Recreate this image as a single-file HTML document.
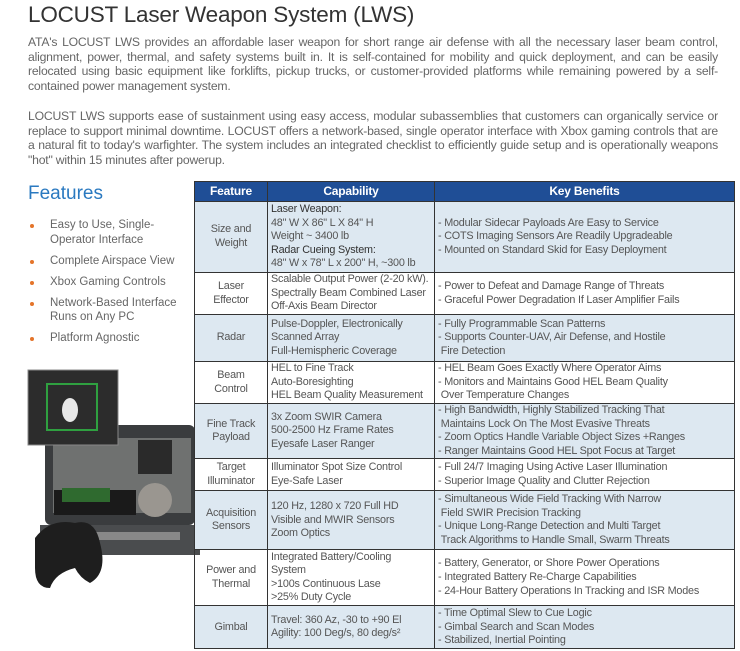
<!DOCTYPE html>
<html><head><meta charset="utf-8"><style>
body{margin:0;width:740px;height:651px;background:#fff;position:relative;overflow:hidden;font-family:"Liberation Sans",sans-serif;color:#555}
h1{position:absolute;left:28px;top:2px;margin:0;font-weight:normal;font-size:22.5px;color:#333;letter-spacing:-0.2px}
.p{position:absolute;left:28px;width:690px;font-size:12.2px;line-height:14.6px;text-align:justify;color:#666;letter-spacing:-0.2px}
.feat{position:absolute;left:28px;top:183px;font-size:19px;color:#2a79c0}
ul{position:absolute;left:28px;top:218px;margin:0;padding:0;list-style:none;font-size:11.5px;color:#666;line-height:14.5px}
li{position:relative;padding-left:22px;margin-bottom:6.5px;width:145px}
li:before{content:"";position:absolute;left:2px;top:6px;width:4px;height:4px;border-radius:50%;background:#e4742a}
table{position:absolute;left:194px;top:181px;width:541px;border-collapse:collapse;table-layout:fixed;font-size:10.8px;color:#555;line-height:13.6px;letter-spacing:-0.2px}
td,th{border:1.5px solid #333;padding:0 3px;vertical-align:middle;white-space:nowrap;overflow:hidden}
th{background:#1f4e96;color:#fff;height:19px;font-size:12px}
td:first-child{text-align:center}
tr.b td{background:#dde8f1}
b{font-weight:normal;color:#333}
</style></head><body>
<h1>LOCUST Laser Weapon System (LWS)</h1>
<div class="p" style="top:35px">ATA's LOCUST LWS provides an affordable laser weapon for short range air defense with all the necessary laser beam control, alignment, power, thermal, and safety systems built in. It is self-contained for mobility and quick deployment, and can be easily relocated using basic equipment like forklifts, pickup trucks, or customer-provided platforms while remaining powered by a self-contained power management system.</div>
<div class="p" style="top:109px">LOCUST LWS supports ease of sustainment using easy access, modular subassemblies that customers can organically service or replace to support minimal downtime. LOCUST offers a network-based, single operator interface with Xbox gaming controls that are a natural fit to today's warfighter. The system includes an integrated checklist to efficiently guide setup and is operationally weapons "hot" within 15 minutes after powerup.</div>
<div class="feat">Features</div>
<ul>
<li>Easy to Use, Single-Operator Interface</li>
<li>Complete Airspace View</li>
<li>Xbox Gaming Controls</li>
<li>Network-Based Interface Runs on Any PC</li>
<li>Platform Agnostic</li>
</ul>
<svg style="position:absolute;left:0;top:360px" width="200" height="240">
<rect x="45" y="65" width="150" height="100" rx="6" fill="#3a3c3e"/>
<rect x="53" y="78" width="138" height="75" fill="#6f7170"/>
<rect x="54" y="130" width="82" height="25" fill="#1a1a1a"/>
<rect x="62" y="128" width="48" height="14" fill="#2f6a2f"/>
<rect x="138" y="80" width="34" height="34" fill="#2a2a2a"/>
<circle cx="155" cy="140" r="17" fill="#9a9690"/>
<rect x="40" y="165" width="160" height="30" fill="#4a4c4e"/>
<rect x="80" y="172" width="100" height="8" fill="#888"/>
<rect x="28" y="10" width="90" height="75" fill="#2c2c2c" stroke="#888"/>
<rect x="47" y="24" width="50" height="46" fill="none" stroke="#2fa040" stroke-width="2"/>
<ellipse cx="70" cy="50" rx="8" ry="12" fill="#e8e8e8"/>
<path d="M35 178 q15-20 40-15 q20 -5 25 20 q8 30-10 40 q-10-5-15-15 q-20 5-25 20 q-15 0-15-20z" fill="#1e1e1e"/>
</svg>
<table>
<colgroup><col style="width:73px"><col style="width:167px"><col></colgroup>
<tr><th>Feature</th><th>Capability</th><th>Key Benefits</th></tr>
<tr class="b" style="height:71px"><td>Size and<br>Weight</td><td><b>Laser Weapon:</b><br>48" W X 86" L X 84" H<br>Weight ~ 3400 lb<br><b>Radar Cueing System:</b><br>48" W x 78" L x 200" H, ~300 lb</td><td>- Modular Sidecar Payloads Are Easy to Service<br>- COTS Imaging Sensors Are Readily Upgradeable<br>- Mounted on Standard Skid for Easy Deployment</td></tr>
<tr style="height:42px"><td>Laser<br>Effector</td><td>Scalable Output Power (2-20 kW).<br>Spectrally Beam Combined Laser<br>Off-Axis Beam Director</td><td>- Power to Defeat and Damage Range of Threats<br>- Graceful Power Degradation If Laser Amplifier Fails</td></tr>
<tr class="b" style="height:47px"><td>Radar</td><td>Pulse-Doppler, Electronically<br>Scanned Array<br>Full-Hemispheric Coverage</td><td>- Fully Programmable Scan Patterns<br>- Supports Counter-UAV, Air Defense, and Hostile<br>&nbsp;Fire Detection</td></tr>
<tr style="height:42px"><td>Beam<br>Control</td><td>HEL to Fine Track<br>Auto-Boresighting<br>HEL Beam Quality Measurement</td><td>- HEL Beam Goes Exactly Where Operator Aims<br>- Monitors and Maintains Good HEL Beam Quality<br>&nbsp;Over Temperature Changes</td></tr>
<tr class="b" style="height:55px"><td>Fine Track<br>Payload</td><td>3x Zoom SWIR Camera<br>500-2500 Hz Frame Rates<br>Eyesafe Laser Ranger</td><td>- High Bandwidth, Highly Stabilized Tracking That<br>&nbsp;Maintains Lock On The Most Evasive Threats<br>- Zoom Optics Handle Variable Object Sizes +Ranges<br>- Ranger Maintains Good HEL Spot Focus at Target</td></tr>
<tr style="height:32px"><td>Target<br>Illuminator</td><td>Illuminator Spot Size Control<br>Eye-Safe Laser</td><td>- Full 24/7 Imaging Using Active Laser Illumination<br>- Superior Image Quality and Clutter Rejection</td></tr>
<tr class="b" style="height:59px"><td>Acquisition<br>Sensors</td><td>120 Hz, 1280 x 720 Full HD<br>Visible and MWIR Sensors<br>Zoom Optics</td><td>- Simultaneous Wide Field Tracking With Narrow<br>&nbsp;Field SWIR Precision Tracking<br>- Unique Long-Range Detection and Multi Target<br>&nbsp;Track Algorithms to Handle Small, Swarm Threats</td></tr>
<tr style="height:56px"><td>Power and<br>Thermal</td><td>Integrated Battery/Cooling<br>System<br>&gt;100s Continuous Lase<br>&gt;25% Duty Cycle</td><td>- Battery, Generator, or Shore Power Operations<br>- Integrated Battery Re-Charge Capabilities<br>- 24-Hour Battery Operations In Tracking and ISR Modes</td></tr>
<tr class="b" style="height:43px"><td>Gimbal</td><td>Travel: 360 Az, -30 to +90 El<br>Agility: 100 Deg/s, 80 deg/s²</td><td>- Time Optimal Slew to Cue Logic<br>- Gimbal Search and Scan Modes<br>- Stabilized, Inertial Pointing</td></tr>
</table>
</body></html>
